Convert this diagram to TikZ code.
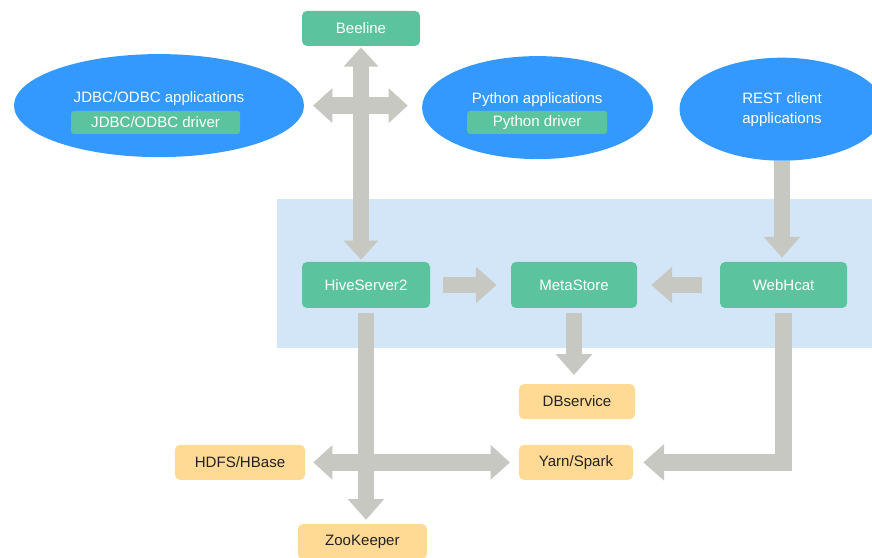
\documentclass[tikz,border=0pt]{standalone}
\usepackage{fontspec}
\setmainfont{Liberation Sans}
\usetikzlibrary{arrows.meta,shapes.geometric}
\definecolor{appBlue}{HTML}{3399FF}
\definecolor{srvGreen}{HTML}{5BC49F}
\definecolor{extOrange}{HTML}{FFDA94}
\definecolor{bandFill}{HTML}{D3E6F8}
\definecolor{pipeGray}{HTML}{C8C8C2}
\definecolor{ink}{HTML}{222222}
\tikzset{
  every node/.append style = {font=\fontsize{10.7}{14.2}\selectfont},
  % --- client applications -----------------------------------------------
  appcloud/.style  = {ellipse, fill=appBlue, draw=none, inner sep=0pt,
                      text=white, align=center},
  applbl/.style    = {text=white},
  driver/.style    = {fill=srvGreen, rounded corners=2pt, text=white,
                      inner sep=0pt},
  % --- hive services ------------------------------------------------------
  service/.style   = {fill=srvGreen, rounded corners=3.5pt, text=white,
                      inner sep=0pt},
  % --- external components ------------------------------------------------
  extern/.style    = {fill=extOrange, rounded corners=3.5pt, text=ink,
                      inner sep=0pt, minimum height=0.875cm},
  % --- relations ----------------------------------------------------------
  pipe/.style      = {draw=pipeGray, line width=0.42cm, line join=miter,
                      -{Triangle[length=0.52cm,width=0.88cm]}},
  pipe2/.style     = {pipe, {Triangle[length=0.48cm,width=0.84cm]}-{Triangle[length=0.48cm,width=0.84cm]}},
}

\begin{document}
\begin{tikzpicture}
\useasboundingbox (0,0) rectangle (21.8,13.95);

% ------------------------------ band ---------------------------------------
\fill[bandFill] (6.925,5.25) rectangle (21.9,8.975);

% -------------------------- client side ------------------------------------
\node[service, minimum width=2.95cm, minimum height=0.875cm]
     (beeline) at (9.025,13.24) {Beeline};

\node[appcloud, minimum width=7.25cm, minimum height=2.575cm]
     (jdbc) at (3.975,11.31) {};
\node[applbl] (jdbclbl) at (3.975,11.48) {JDBC/ODBC applications};
\node[driver, minimum width=4.225cm, minimum height=0.575cm]
     (jdbcdrv) at (3.89,10.89) {JDBC/ODBC driver};

\node[appcloud, minimum width=5.775cm, minimum height=2.575cm]
     (python) at (13.44,11.26) {};
\node[applbl] (pylbl) at (13.43,11.45) {Python applications};
\node[driver, minimum width=3.5cm, minimum height=0.575cm]
     (pydrv) at (13.43,10.89) {Python driver};

\node[appcloud, minimum width=5.125cm, minimum height=2.575cm]
     (rest) at (19.55,11.22) {REST client\\applications};

% ---------------------------- services -------------------------------------
\node[service, minimum width=3.2cm,   minimum height=1.15cm]
     (hive)    at (9.15,6.825)  {HiveServer2};
\node[service, minimum width=3.15cm,  minimum height=1.15cm]
     (meta)    at (14.35,6.825) {MetaStore};
\node[service, minimum width=3.175cm, minimum height=1.15cm]
     (webhcat) at (19.59,6.825) {WebHcat};

% ---------------------------- externals ------------------------------------
\node[extern, minimum width=2.9cm]   (dbs)  at (14.425,3.91) {DBservice};
\node[extern, minimum width=2.85cm]  (yarn) at (14.4,2.39)   {Yarn/Spark};
\node[extern, minimum width=3.25cm]  (hdfs) at (6.0,2.39)    {HDFS/HBase};
\node[extern, minimum width=3.225cm] (zoo)  at (9.06,0.41)   {ZooKeeper};

% ------------------------------- flow --------------------------------------
\draw[pipe2, shorten <=0.03cm, shorten >=0.05cm]
     (beeline.south) -- (beeline.south |- hive.north);
\draw[pipe2, shorten <=0.22cm, shorten >=0.35cm]
     (jdbc.east) -- (jdbc.east -| python.west);
\draw[pipe, shorten <=0.33cm, shorten >=0.35cm] (hive) -- (meta);
\draw[pipe, shorten <=0.45cm, shorten >=0.35cm] (webhcat) -- (meta);
\draw[pipe, shorten >=0.1cm] (rest.south) -- (rest.south |- webhcat.north);
\draw[pipe, shorten <=0.12cm, shorten >=0.22cm]
     (meta.south) -- (meta.south |- dbs.north);
\draw[pipe, shorten <=0.12cm, shorten >=0.1cm]
     (hive.south) -- (hive.south |- zoo.north);
\draw[pipe2, shorten <=0.2cm, shorten >=0.22cm] (hdfs) -- (yarn);
\draw[pipe, shorten <=0.12cm, shorten >=0.25cm] (webhcat.south) |- (yarn.east);

\end{tikzpicture}
\end{document}
